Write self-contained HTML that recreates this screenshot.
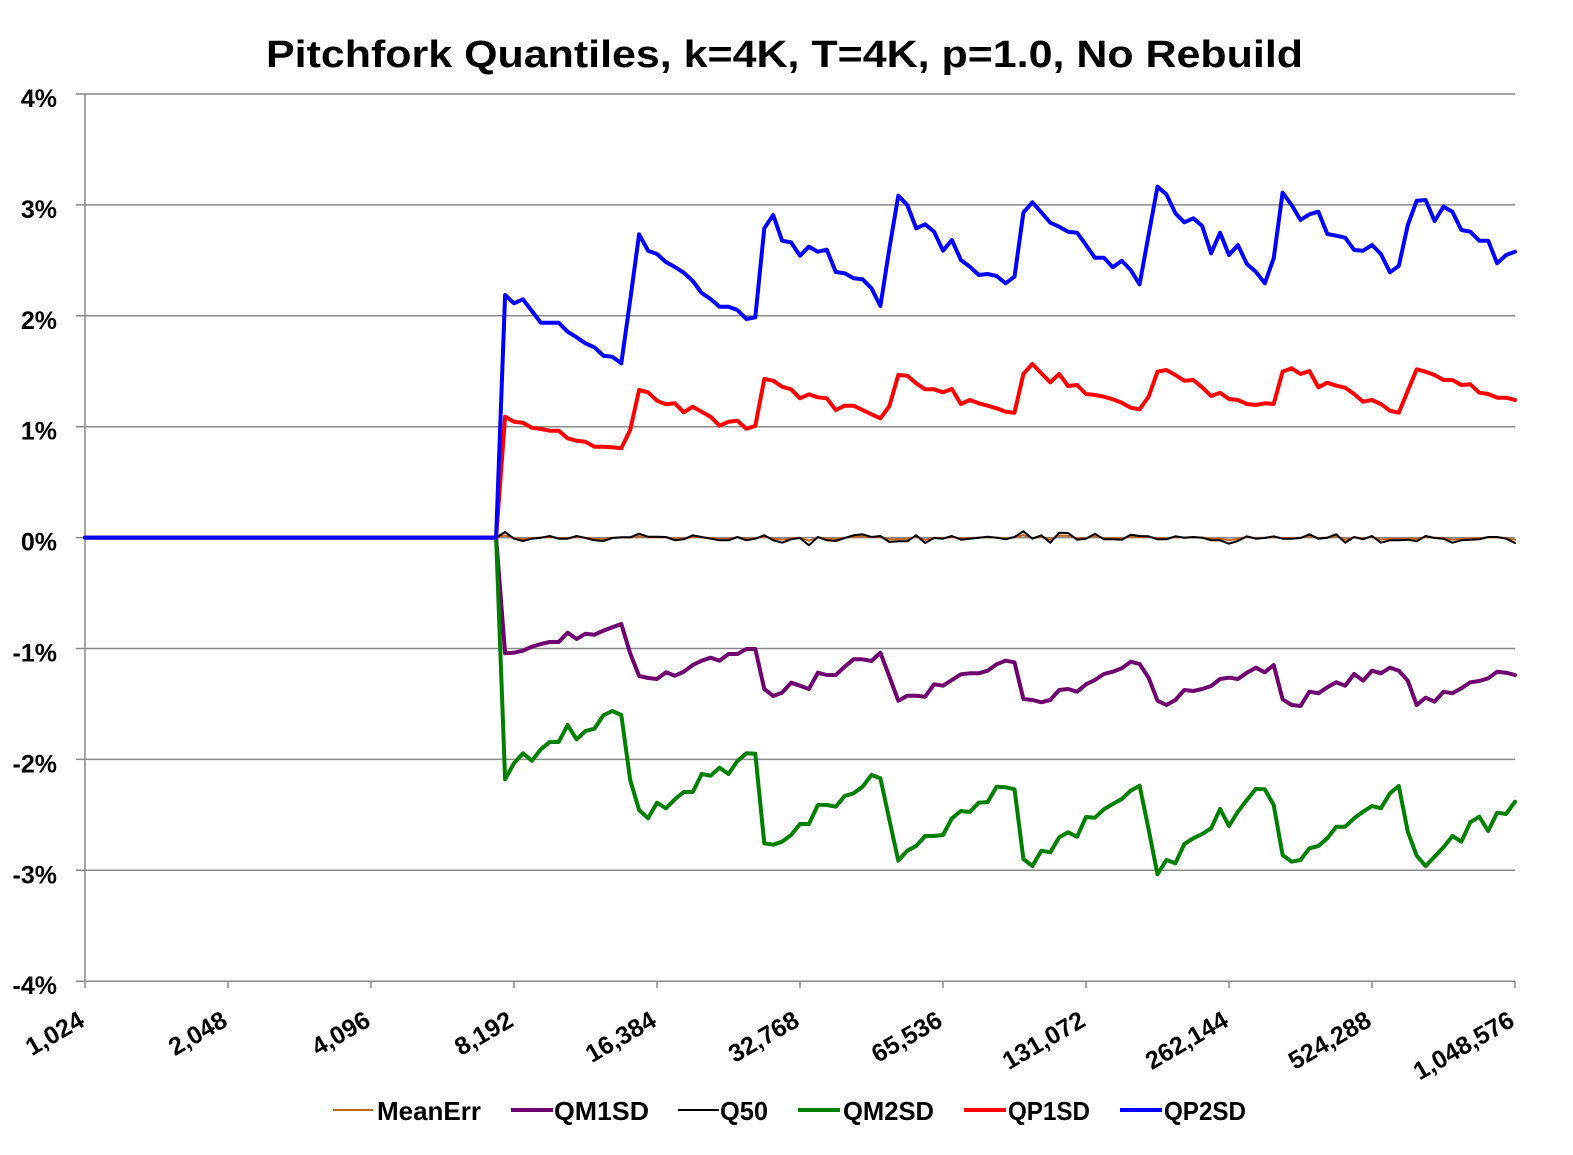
<!DOCTYPE html>
<html>
<head>
<meta charset="utf-8">
<style>
html,body{margin:0;padding:0;background:#fff;}
svg{display:block;}
text{font-family:"Liberation Sans",Arial,sans-serif;font-weight:bold;fill:#000;}
</style>
</head>
<body>
<svg width="1573" height="1155" viewBox="0 0 1573 1155" xmlns="http://www.w3.org/2000/svg">
<rect width="1573" height="1155" fill="#fff"/>
<!-- Title -->
<text x="266" y="67" font-size="38" textLength="1037" lengthAdjust="spacingAndGlyphs">Pitchfork Quantiles, k=4K, T=4K, p=1.0, No Rebuild</text>

<!-- Gridlines -->
<g stroke="#898989" stroke-width="1.5" fill="none">
<line x1="76" y1="94" x2="1515" y2="94"/>
<line x1="76" y1="204.9" x2="1515" y2="204.9"/>
<line x1="76" y1="315.8" x2="1515" y2="315.8"/>
<line x1="76" y1="426.7" x2="1515" y2="426.7"/>
<line x1="76" y1="537.6" x2="1515" y2="537.6"/>
<line x1="76" y1="648.5" x2="1515" y2="648.5"/>
<line x1="76" y1="759.4" x2="1515" y2="759.4"/>
<line x1="76" y1="870.3" x2="1515" y2="870.3"/>
<line x1="76" y1="981.2" x2="1515" y2="981.2"/>
<line x1="85" y1="94" x2="85" y2="981.2"/>
<!-- x ticks -->
<line x1="85" y1="981" x2="85" y2="988"/>
<line x1="228" y1="981" x2="228" y2="988"/>
<line x1="371" y1="981" x2="371" y2="988"/>
<line x1="514" y1="981" x2="514" y2="988"/>
<line x1="657" y1="981" x2="657" y2="988"/>
<line x1="800" y1="981" x2="800" y2="988"/>
<line x1="943" y1="981" x2="943" y2="988"/>
<line x1="1086" y1="981" x2="1086" y2="988"/>
<line x1="1229" y1="981" x2="1229" y2="988"/>
<line x1="1372" y1="981" x2="1372" y2="988"/>
<line x1="1515" y1="981" x2="1515" y2="988"/>
</g>

<!-- Y labels -->
<g font-size="25" text-anchor="end">
<text x="57" y="107">4%</text>
<text x="57" y="217.9">3%</text>
<text x="57" y="328.8">2%</text>
<text x="57" y="439.7">1%</text>
<text x="57" y="550.6">0%</text>
<text x="57" y="661.5">-1%</text>
<text x="57" y="772.4">-2%</text>
<text x="57" y="883.3">-3%</text>
<text x="57" y="994.2">-4%</text>
</g>

<!-- X labels -->
<g font-size="25" text-anchor="end">
<text transform="translate(86,1025) rotate(-30)">1,024</text>
<text transform="translate(229,1025) rotate(-30)">2,048</text>
<text transform="translate(372,1025) rotate(-30)">4,096</text>
<text transform="translate(515,1025) rotate(-30)">8,192</text>
<text transform="translate(658,1025) rotate(-30)">16,384</text>
<text transform="translate(801,1025) rotate(-30)">32,768</text>
<text transform="translate(944,1025) rotate(-30)">65,536</text>
<text transform="translate(1087,1025) rotate(-30)">131,072</text>
<text transform="translate(1230,1025) rotate(-30)">262,144</text>
<text transform="translate(1373,1025) rotate(-30)">524,288</text>
<text transform="translate(1516,1025) rotate(-30)">1,048,576</text>
</g>

<g fill="none" stroke-linejoin="round" stroke-linecap="round">
<!-- MeanErr -->
<polyline stroke="#C0651E" stroke-width="2" vector-effect="non-scaling-stroke" transform="matrix(1 0 0 0.4 0 322.6)" points="85,537.6 496.1,537.6 505.1,532 514,538.7 522.9,541 531.9,538.7 540.8,537.7 549.8,536 558.7,538.7 567.6,538.7 576.6,536 585.5,538 594.4,540.3 603.4,541 612.3,538 621.3,537.3 630.2,537.3 639.1,533.7 648.1,536.7 657,536.7 665.9,537 674.9,540.3 683.8,539.3 692.8,535.3 701.7,537 710.6,538.7 719.6,540.3 728.5,540.3 737.4,537 746.4,540.3 755.3,538.7 764.3,535.3 773.2,540.3 782.1,542.7 791.1,539.3 800,538 808.9,545.3 817.9,537 826.8,540.3 835.8,541 844.7,538 853.6,535.3 862.6,534.3 871.5,537 880.4,536 889.4,542 898.3,541.3 907.3,541.3 916.2,535.3 925.1,543 934.1,538 943,538.7 951.9,536 960.9,539.7 969.8,538.7 978.8,537.7 987.7,536.7 996.6,537.7 1005.6,539.3 1014.5,537 1023.4,531.3 1032.4,538.7 1041.3,535.3 1050.3,542.7 1059.2,532.7 1068.1,533 1077.1,539.7 1086,538.7 1094.9,533.7 1103.9,539.3 1112.8,539.3 1121.8,539.7 1130.7,534.7 1139.6,536 1148.6,536.3 1157.5,539.3 1166.4,539.3 1175.4,536.3 1184.3,537.7 1193.3,537 1202.2,537.7 1211.1,540.3 1220.1,540.3 1229,543.7 1237.9,541 1246.9,536.3 1255.8,538.7 1264.8,538 1273.7,536.3 1282.6,538.7 1291.6,538.7 1300.5,538 1309.4,534.3 1318.4,538.7 1327.3,537.7 1336.3,534.3 1345.2,542.7 1354.1,537 1363.1,539.3 1372,536 1380.9,542.7 1389.9,540.3 1398.8,540.3 1407.8,539.7 1416.7,541.3 1425.6,536 1434.6,538 1443.5,538.7 1452.4,542.7 1461.4,540.3 1470.3,539.7 1479.3,539.3 1488.2,537 1497.1,537 1506.1,538.7 1515,543"/>
<!-- QM1SD -->
<polyline stroke="#700070" stroke-width="4" points="85,537.6 496.1,537.6 505.1,653.3 514,652.7 522.9,650.7 531.9,646.7 540.8,644 549.8,642 558.7,642 567.6,632.7 576.6,639 585.5,633.7 594.4,634.7 603.4,630.7 612.3,627.3 621.3,624 630.2,653.3 639.1,676 648.1,678 657,679 665.9,672.3 674.9,675.7 683.8,671.7 692.8,665 701.7,660.7 710.6,657.7 719.6,660.7 728.5,654 737.4,654 746.4,649 755.3,649 764.3,689 773.2,696 782.1,692.7 791.1,682.7 800,685.7 808.9,689 817.9,672.7 826.8,675 835.8,675 844.7,666.7 853.6,659.3 862.6,659.3 871.5,661 880.4,652.7 889.4,676.7 898.3,700.7 907.3,695.7 916.2,695.7 925.1,696.7 934.1,684.3 943,685.7 951.9,680 960.9,674.3 969.8,673.3 978.8,673.3 987.7,670.7 996.6,664.3 1005.6,660.7 1014.5,662.3 1023.4,699 1032.4,700 1041.3,702.3 1050.3,700 1059.2,690 1068.1,689 1077.1,691.7 1086,684.3 1094.9,680 1103.9,674 1112.8,671.7 1121.8,668.3 1130.7,661.7 1139.6,664 1148.6,677.7 1157.5,700.7 1166.4,705 1175.4,700 1184.3,690 1193.3,691 1202.2,689 1211.1,686 1220.1,679 1229,677.7 1237.9,679 1246.9,672.7 1255.8,667.7 1264.8,672.3 1273.7,665 1282.6,699.3 1291.6,705 1300.5,706 1309.4,691.7 1318.4,693.3 1327.3,687.3 1336.3,682.3 1345.2,685.7 1354.1,674 1363.1,680.7 1372,670.7 1380.9,673.3 1389.9,667.7 1398.8,670.7 1407.8,680.7 1416.7,705 1425.6,697.7 1434.6,701.7 1443.5,691.7 1452.4,693.3 1461.4,688.3 1470.3,682.3 1479.3,681 1488.2,678.3 1497.1,671.7 1506.1,672.7 1515,675"/>
<!-- Q50 -->
<polyline stroke="#000" stroke-width="2" points="85,537.6 496.1,537.6 505.1,532 514,538.7 522.9,541 531.9,538.7 540.8,537.7 549.8,536 558.7,538.7 567.6,538.7 576.6,536 585.5,538 594.4,540.3 603.4,541 612.3,538 621.3,537.3 630.2,537.3 639.1,533.7 648.1,536.7 657,536.7 665.9,537 674.9,540.3 683.8,539.3 692.8,535.3 701.7,537 710.6,538.7 719.6,540.3 728.5,540.3 737.4,537 746.4,540.3 755.3,538.7 764.3,535.3 773.2,540.3 782.1,542.7 791.1,539.3 800,538 808.9,545.3 817.9,537 826.8,540.3 835.8,541 844.7,538 853.6,535.3 862.6,534.3 871.5,537 880.4,536 889.4,542 898.3,541.3 907.3,541.3 916.2,535.3 925.1,543 934.1,538 943,538.7 951.9,536 960.9,539.7 969.8,538.7 978.8,537.7 987.7,536.7 996.6,537.7 1005.6,539.3 1014.5,537 1023.4,531.3 1032.4,538.7 1041.3,535.3 1050.3,542.7 1059.2,532.7 1068.1,533 1077.1,539.7 1086,538.7 1094.9,533.7 1103.9,539.3 1112.8,539.3 1121.8,539.7 1130.7,534.7 1139.6,536 1148.6,536.3 1157.5,539.3 1166.4,539.3 1175.4,536.3 1184.3,537.7 1193.3,537 1202.2,537.7 1211.1,540.3 1220.1,540.3 1229,543.7 1237.9,541 1246.9,536.3 1255.8,538.7 1264.8,538 1273.7,536.3 1282.6,538.7 1291.6,538.7 1300.5,538 1309.4,534.3 1318.4,538.7 1327.3,537.7 1336.3,534.3 1345.2,542.7 1354.1,537 1363.1,539.3 1372,536 1380.9,542.7 1389.9,540.3 1398.8,540.3 1407.8,539.7 1416.7,541.3 1425.6,536 1434.6,538 1443.5,538.7 1452.4,542.7 1461.4,540.3 1470.3,539.7 1479.3,539.3 1488.2,537 1497.1,537 1506.1,538.7 1515,543"/>
<!-- QM2SD -->
<polyline stroke="#008000" stroke-width="4" points="85,537.6 496.1,537.6 505.1,779.3 514,763.3 522.9,753.3 531.9,760.7 540.8,749.3 549.8,742 558.7,742 567.6,725 576.6,739.3 585.5,731 594.4,728.7 603.4,715.3 612.3,711 621.3,715 630.2,780 639.1,810 648.1,818.3 657,802.7 665.9,808.3 674.9,799.3 683.8,792 692.8,792 701.7,774 710.6,775.7 719.6,767.7 728.5,774 737.4,761 746.4,753.3 755.3,753.7 764.3,843.3 773.2,844.7 782.1,841.7 791.1,835 800,824 808.9,824 817.9,805 826.8,805 835.8,806.7 844.7,796 853.6,793.3 862.6,786.7 871.5,775 880.4,778.3 889.4,820 898.3,860.7 907.3,850.7 916.2,846 925.1,836 934.1,836 943,835 951.9,818.3 960.9,811 969.8,812 978.8,802.7 987.7,802 996.6,786.7 1005.6,787.3 1014.5,789.3 1023.4,859 1032.4,866 1041.3,850.7 1050.3,852.3 1059.2,837.3 1068.1,832.3 1077.1,836.7 1086,817 1094.9,817.7 1103.9,809.3 1112.8,804 1121.8,799 1130.7,790.7 1139.6,785.7 1148.6,829.3 1157.5,874.3 1166.4,860 1175.4,863.3 1184.3,844 1193.3,838.3 1202.2,834 1211.1,828.3 1220.1,809 1229,826 1237.9,811.7 1246.9,800 1255.8,789 1264.8,789.3 1273.7,805 1282.6,855 1291.6,861.7 1300.5,860 1309.4,848.3 1318.4,846 1327.3,838.3 1336.3,826.7 1345.2,826.7 1354.1,818.3 1363.1,811.7 1372,806 1380.9,808.3 1389.9,793.3 1398.8,786 1407.8,831.7 1416.7,855.7 1425.6,866 1434.6,856.7 1443.5,847.3 1452.4,836 1461.4,841.7 1470.3,822.3 1479.3,816.7 1488.2,831 1497.1,812.7 1506.1,814 1515,801.7"/>
<!-- QP1SD -->
<polyline stroke="#FF0000" stroke-width="4" points="85,537.6 496.1,537.6 505.1,416.7 514,421.7 522.9,422.7 531.9,427.7 540.8,429 549.8,430.7 558.7,430.7 567.6,438.3 576.6,440.7 585.5,441.7 594.4,446.7 603.4,446.7 612.3,447.3 621.3,448.3 630.2,430 639.1,390 648.1,392.3 657,400.7 665.9,404.3 674.9,403.3 683.8,412.3 692.8,406.7 701.7,411.7 710.6,416.7 719.6,425.7 728.5,421.7 737.4,420.7 746.4,428.7 755.3,426 764.3,379 773.2,380.7 782.1,386.7 791.1,389.3 800,398.3 808.9,394.3 817.9,397.3 826.8,398.3 835.8,410 844.7,405.7 853.6,405.7 862.6,410 871.5,414.3 880.4,418.3 889.4,406 898.3,375 907.3,375.7 916.2,383.3 925.1,389.3 934.1,389.3 943,392.3 951.9,389 960.9,404 969.8,400 978.8,403.3 987.7,405.7 996.6,408.3 1005.6,411.7 1014.5,412.7 1023.4,374 1032.4,364 1041.3,373.3 1050.3,382.3 1059.2,374 1068.1,386 1077.1,385 1086,394 1094.9,395 1103.9,396.7 1112.8,399.3 1121.8,402.7 1130.7,407.7 1139.6,409.3 1148.6,396.7 1157.5,371.7 1166.4,370 1175.4,375 1184.3,380.7 1193.3,380 1202.2,387.3 1211.1,396 1220.1,392.7 1229,399 1237.9,400 1246.9,404 1255.8,405 1264.8,403.3 1273.7,404 1282.6,371.7 1291.6,368.3 1300.5,374 1309.4,371 1318.4,387.3 1327.3,382.7 1336.3,385.7 1345.2,387.7 1354.1,394 1363.1,401.7 1372,400 1380.9,404 1389.9,410.7 1398.8,412.7 1407.8,390.7 1416.7,369.3 1425.6,371.7 1434.6,375 1443.5,380 1452.4,380 1461.4,385 1470.3,384.3 1479.3,392.7 1488.2,394 1497.1,397.7 1506.1,397.7 1515,400"/>
<!-- QP2SD -->
<polyline stroke="#0000FF" stroke-width="4" points="85,537.6 496.1,537.6 505.1,295 514,303.3 522.9,299.3 531.9,311 540.8,322.7 549.8,322.7 558.7,322.7 567.6,331.7 576.6,337.3 585.5,343.3 594.4,347.3 603.4,355.7 612.3,356.7 621.3,363.3 630.2,300 639.1,234.3 648.1,250.7 657,254 665.9,262 674.9,267 683.8,272.7 692.8,281 701.7,293 710.6,299 719.6,306.7 728.5,306.7 737.4,310 746.4,319 755.3,317.3 764.3,228.3 773.2,215 782.1,240.7 791.1,242.3 800,255.7 808.9,246.7 817.9,251.7 826.8,249.7 835.8,272 844.7,273.3 853.6,278.3 862.6,279.3 871.5,288.3 880.4,306 889.4,248.3 898.3,195.7 907.3,205 916.2,228.3 925.1,224.3 934.1,231.7 943,250.7 951.9,240 960.9,260 969.8,266.7 978.8,275 987.7,274 996.6,276 1005.6,283.3 1014.5,276.7 1023.4,212.7 1032.4,202.3 1041.3,212.3 1050.3,222.7 1059.2,226.7 1068.1,231.7 1077.1,232.7 1086,245 1094.9,257.7 1103.9,257.7 1112.8,267.3 1121.8,260.7 1130.7,270 1139.6,284.3 1148.6,235 1157.5,186.7 1166.4,194.3 1175.4,213.3 1184.3,222.3 1193.3,218.3 1202.2,226 1211.1,253.3 1220.1,232.7 1229,255 1237.9,245 1246.9,264 1255.8,271.7 1264.8,283.3 1273.7,258.3 1282.6,192.7 1291.6,205 1300.5,220 1309.4,214.3 1318.4,211.7 1327.3,234 1336.3,235.7 1345.2,237.7 1354.1,250 1363.1,250.7 1372,245 1380.9,254 1389.9,272.3 1398.8,266 1407.8,225 1416.7,200.7 1425.6,200 1434.6,221 1443.5,206.7 1452.4,211.7 1461.4,230 1470.3,231.7 1479.3,240.7 1488.2,240.7 1497.1,263.3 1506.1,255 1515,251.7"/>
</g>

<!-- Legend -->
<g>
<line x1="333" y1="1110" x2="373" y2="1110" stroke="#C0651E" stroke-width="2"/>
<text x="377" y="1120" font-size="26" textLength="104" lengthAdjust="spacingAndGlyphs">MeanErr</text>
<line x1="511" y1="1110" x2="553" y2="1110" stroke="#700070" stroke-width="4"/>
<text x="554" y="1120" font-size="26" textLength="95" lengthAdjust="spacingAndGlyphs">QM1SD</text>
<line x1="678" y1="1110" x2="719" y2="1110" stroke="#000" stroke-width="2"/>
<text x="720" y="1120" font-size="26" textLength="48" lengthAdjust="spacingAndGlyphs">Q50</text>
<line x1="798" y1="1110" x2="840" y2="1110" stroke="#008000" stroke-width="4"/>
<text x="843" y="1120" font-size="26" textLength="91" lengthAdjust="spacingAndGlyphs">QM2SD</text>
<line x1="964" y1="1110" x2="1006" y2="1110" stroke="#FF0000" stroke-width="4"/>
<text x="1008" y="1120" font-size="26" textLength="82" lengthAdjust="spacingAndGlyphs">QP1SD</text>
<line x1="1120" y1="1110" x2="1162" y2="1110" stroke="#0000FF" stroke-width="4"/>
<text x="1164" y="1120" font-size="26" textLength="82" lengthAdjust="spacingAndGlyphs">QP2SD</text>
</g>
</svg>
</body>
</html>
